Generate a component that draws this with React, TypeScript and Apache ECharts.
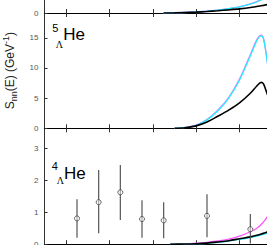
import React, { useEffect, useRef } from "react";
import * as echarts from "echarts";

// ---- data ----
const xTicks = [40, 60, 80, 100, 120, 140];

// top panel (partially visible)
const p1X = [85, 90, 95, 100, 105, 110, 115, 120, 125, 130, 133];
const p1Black = [0, 0.02, 0.06, 0.14, 0.25, 0.38, 0.52, 0.68, 0.9, 1.2, 1.4];
const p1Cyan = [0, 0.03, 0.08, 0.18, 0.3, 0.47, 0.7, 1.0, 1.45, 2.15, 2.8];
const p1Magenta = [0, 0.03, 0.08, 0.19, 0.31, 0.49, 0.72, 1.03, 1.5, 2.2, 2.85];

// 5_Lambda He panel
const p2X = [90, 95, 100, 105, 110, 115, 120, 125, 128, 130, 131, 132, 133, 134];
const p2Black = [0, 0.08, 0.4, 1.05, 2.0, 3.0, 4.2, 5.8, 7.0, 7.6, 7.4, 6.5, 5.5, 4.5];
const p2Cyan = [0, 0.15, 0.5, 1.4, 2.9, 5.0, 8.0, 12.0, 14.5, 15.3, 14.9, 13.0, 10.5, 8.0];
const p2Magenta = [0, 0.16, 0.52, 1.45, 3.0, 5.1, 8.15, 12.2, 14.7, 15.45, 15.0, 13.1, 10.6, 8.1];

// 4_Lambda He panel
const p3X = [88, 95, 100, 105, 110, 115, 120, 125, 128, 130, 132, 134];
const p3Black = [0, 0.005, 0.015, 0.035, 0.07, 0.11, 0.17, 0.23, 0.28, 0.32, 0.36, 0.41];
const p3Cyan = [0, 0.003, 0.01, 0.03, 0.06, 0.1, 0.15, 0.21, 0.25, 0.29, 0.33, 0.37];
const p3Magenta = [0, 0.01, 0.03, 0.06, 0.1, 0.16, 0.25, 0.39, 0.5, 0.62, 0.78, 0.98];

const expX = [45, 55, 65, 75, 85, 105, 125];
const expY = [0.81, 1.32, 1.63, 0.79, 0.75, 0.89, 0.47];
const expLow = [0.2, 0.34, 0.76, 0.2, 0.19, 0.22, 0.02];
const expHigh = [1.41, 2.33, 2.49, 1.38, 1.32, 1.57, 0.95];

const zip = (xs: number[], ys: number[]) => xs.map((x, i) => [x, ys[i]]);

export default function App() {
  const ref = useRef<HTMLDivElement>(null);
  useEffect(() => {
    if (!ref.current) return;
    const chart = echarts.init(ref.current, undefined, { renderer: "svg" });
    const LEFT = 44.5;
    const WIDTH = 260;
    const grids = [
      { left: LEFT, width: WIDTH, top: -102, height: 115, outerBoundsMode: "none", containLabel: false },
      { left: LEFT, width: WIDTH, top: 13, height: 115.3, outerBoundsMode: "none", containLabel: false },
      { left: LEFT, width: WIDTH, top: 128.3, height: 115.9, outerBoundsMode: "none", containLabel: false },
    ];
    const xAx = (gridIndex: number, position: "top" | "bottom") => ({
      type: "value",
      gridIndex,
      position,
      min: 30,
      max: 150,
      axisLine: { show: true, onZero: false, lineStyle: { color: "#000", width: 1.2 } },
      axisTick: {
        show: true,
        inside: true,
        length: 4,
        customValues: xTicks,
        lineStyle: { color: "#333", width: 1 },
      },
      axisLabel: { show: false },
      splitLine: { show: false },
    });
    const yAx = (gridIndex: number, max: number, interval: number, extra: any = {}, onlyZero = false) => ({
      type: "value",
      gridIndex,
      min: 0,
      max,
      interval,
      axisLine: { show: true, lineStyle: { color: "#333", width: 1 } },
      axisTick: { show: true, inside: true, length: 3, lineStyle: { color: "#333" } },
      axisLabel: {
        show: true,
        margin: 6,
        color: "#555",
        fontSize: 8,
        fontFamily: "Liberation Sans Narrow, Liberation Sans, Arial",
        showMaxLabel: false,
        formatter: onlyZero ? (v: number) => (v === 0 ? "0" : "") : undefined,
      },
      splitLine: { show: false },
      ...extra,
    });
    const lineS = (xi: number, yi: number, xs: number[], ys: number[], color: string, w: number, z: number) => ({
      type: "line",
      xAxisIndex: xi,
      yAxisIndex: yi,
      data: zip(xs, ys),
      showSymbol: false,
      smooth: 0.3,
      lineStyle: { color, width: w },
      z,
    });
    const option: any = {
      animation: false,
      grid: grids,
      xAxis: [xAx(0, "bottom"), xAx(1, "bottom"), xAx(1, "top"), xAx(2, "bottom"), xAx(2, "top")],
      yAxis: [
        yAx(0, 19, 5, {}, true),
        yAx(1, 19.1, 5, {
          name: "S{sub|nn}(E) (GeV{sup|-1})",
          nameLocation: "middle",
          nameRotate: 90,
          nameGap: 18,
          nameTextStyle: {
            fontSize: 12,
            color: "#222",
            fontFamily: "Liberation Sans, Arial",
            rich: {
              sub: { fontSize: 9, verticalAlign: "bottom", lineHeight: 9, padding: [0, 0, -3, 0] },
              sup: { fontSize: 9, verticalAlign: "top", lineHeight: 9, padding: [-2, 0, 0, 0] },
            },
          },
        }),
        yAx(2, 3.64, 1),
      ],
      series: [
        lineS(0, 0, p1X, p1Magenta, "#ff55ff", 1.3, 2),
        lineS(0, 0, p1X, p1Cyan, "#22eeff", 1.3, 3),
        lineS(0, 0, p1X, p1Black, "#000", 1.6, 4),
        lineS(1, 1, p2X, p2Magenta, "#ff66ff", 1.3, 2),
        lineS(1, 1, p2X, p2Cyan, "#22eeff", 1.3, 3),
        lineS(1, 1, p2X, p2Black, "#000", 1.6, 4),
        lineS(3, 2, p3X, p3Magenta, "#ff55ff", 1.3, 2),
        lineS(3, 2, p3X, p3Cyan, "#22eeff", 1.3, 3),
        lineS(3, 2, p3X, p3Black, "#000", 1.6, 4),
        {
          type: "custom",
          xAxisIndex: 3,
          yAxisIndex: 2,
          data: expX.map((x, i) => [x, expLow[i], expHigh[i]]),
          encode: { x: 0, y: [1, 2] },
          renderItem: (params: any, api: any) => {
            const x = api.value(0);
            const lo = api.coord([x, api.value(1)]);
            const hi = api.coord([x, api.value(2)]);
            return {
              type: "line",
              shape: { x1: lo[0], y1: lo[1], x2: hi[0], y2: hi[1] },
              style: { stroke: "#555", lineWidth: 1.2 },
            };
          },
          z: 5,
        },
        {
          type: "scatter",
          xAxisIndex: 3,
          yAxisIndex: 2,
          data: zip(expX, expY),
          symbol: "circle",
          symbolSize: 5,
          itemStyle: { color: "rgba(255,255,255,0.6)", borderColor: "#444", borderWidth: 1 },
          z: 6,
        },
      ],
      graphic: [
        { type: "text", x: 52.3, y: 28.3, style: { text: "5", fontSize: 11, fontFamily: "Liberation Sans, Arial", fill: "#000", verticalAlign: "middle" } },
        { type: "text", x: 55.7, y: 44.8, style: { text: "Λ", fontSize: 10, fontFamily: "Liberation Serif, serif", fill: "#000", verticalAlign: "middle" } },
        { type: "text", x: 63.3, y: 34.7, style: { text: "He", fontSize: 17, fontFamily: "Liberation Sans, Arial", fill: "#000", verticalAlign: "middle" } },
        { type: "text", x: 51.7, y: 166.2, style: { text: "4", fontSize: 11, fontFamily: "Liberation Sans, Arial", fill: "#000", verticalAlign: "middle" } },
        { type: "text", x: 56.7, y: 180.9, style: { text: "Λ", fontSize: 10, fontFamily: "Liberation Serif, serif", fill: "#000", verticalAlign: "middle" } },
        { type: "text", x: 64, y: 173, style: { text: "He", fontSize: 17, fontFamily: "Liberation Sans, Arial", fill: "#000", verticalAlign: "middle" } },
      ],
    };
    chart.setOption(option);
    return () => chart.dispose();
  }, []);
  return (
    <div
      ref={ref}
      style={{ position: "absolute", left: 0, top: 0, width: 267, height: 245, background: "#fff" }}
    />
  );
}
